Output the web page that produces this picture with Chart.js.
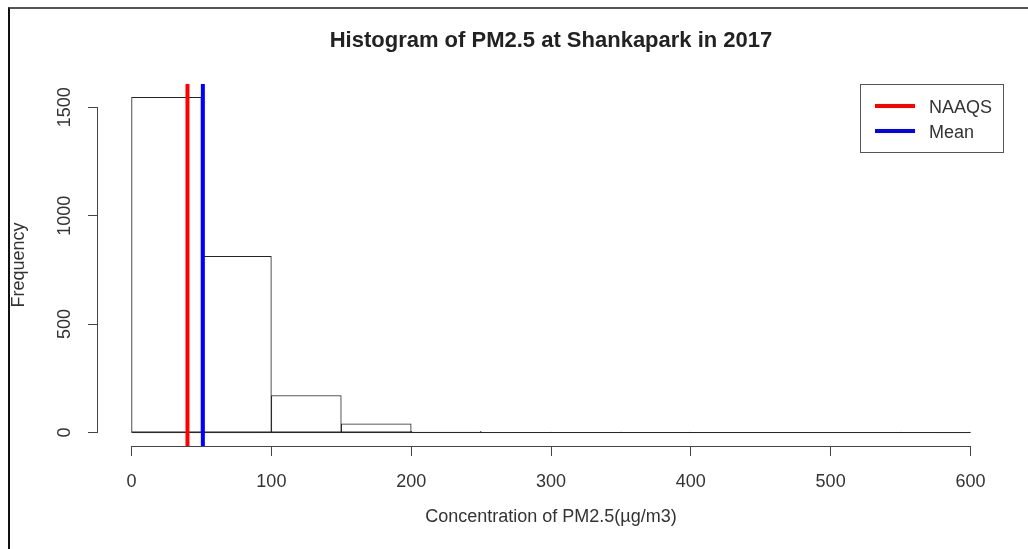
<!DOCTYPE html>
<html>
<head>
<meta charset="utf-8">
<script src="https://cdn.jsdelivr.net/npm/chart.js@4.4.1/dist/chart.umd.min.js"></script>
<style>
  html, body { margin: 0; padding: 0; background: #fff; }
  #wrap { position: relative; width: 1028px; height: 549px; }
  #frame {
    position: absolute; left: 8px; top: 7px; right: 0; bottom: 0;
    border-top: 2px solid #555; border-left: 2px solid #111;
    pointer-events: none;
  }
</style>
</head>
<body>
<div id="wrap">
  <canvas id="hist" width="1028" height="549"></canvas>
  <div id="frame"></div>
</div>
<script>
// histogram bins (left edges) and counts
const binStarts = [0, 50, 100, 150, 200, 250, 300, 350, 400, 450, 500, 550];
const binWidth = 50;
const counts = [1545, 812, 171, 40, 6, 2, 1, 1, 0, 0, 0, 1];

// reference lines
const naaqsValue = 40;
const meanValue = 51;

// axes
const xTicks = [0, 100, 200, 300, 400, 500, 600];
const yTicks = [0, 500, 1000, 1500];
const xLimits = [-24, 624];
const yLimits = [-62, 1607];

const axisColor = "#444";
const textColor = "#333";
const fontFamily = "'Liberation Sans', Arial, sans-serif";

// R style axis lines: only from first to last tick
const rAxes = {
  id: "rAxes",
  afterDraw(chart) {
    const { ctx, chartArea, scales: { x, y } } = chart;
    ctx.save();
    ctx.strokeStyle = axisColor;
    ctx.lineWidth = 1;
    ctx.beginPath();
    ctx.moveTo(x.getPixelForValue(xTicks[0]), chartArea.bottom + 0.5);
    ctx.lineTo(x.getPixelForValue(xTicks[xTicks.length - 1]), chartArea.bottom + 0.5);
    ctx.moveTo(chartArea.left - 0.5, y.getPixelForValue(yTicks[0]));
    ctx.lineTo(chartArea.left - 0.5, y.getPixelForValue(yTicks[yTicks.length - 1]));
    ctx.stroke();
    ctx.restore();
  }
};

// boxed legend in the top right corner of the plot
const boxLegend = {
  id: "boxLegend",
  afterDraw(chart) {
    const { ctx, chartArea } = chart;
    const items = chart.data.datasets.filter(d => d.inLegend);
    const w = 144, h = 69;
    const left = chartArea.right - w, top = chartArea.top;
    ctx.save();
    ctx.fillStyle = "#fff";
    ctx.fillRect(left, top, w, h);
    ctx.strokeStyle = "#555";
    ctx.lineWidth = 1;
    ctx.strokeRect(left + 0.5, top + 0.5, w - 1, h - 1);
    ctx.font = "18px " + fontFamily;
    ctx.textBaseline = "middle";
    items.forEach((d, i) => {
      const yy = top + 22 + i * 25;
      ctx.strokeStyle = d.borderColor;
      ctx.lineWidth = 4;
      ctx.beginPath();
      ctx.moveTo(left + 15, yy);
      ctx.lineTo(left + 55, yy);
      ctx.stroke();
      ctx.fillStyle = textColor;
      ctx.fillText(d.label, left + 69, yy + 2);
    });
    ctx.restore();
  }
};

new Chart(document.getElementById("hist"), {
  type: "bar",
  data: {
    datasets: [
      {
        type: "line",
        label: "NAAQS",
        inLegend: true,
        data: [{ x: naaqsValue, y: yLimits[0] }, { x: naaqsValue, y: yLimits[1] }],
        borderColor: "#ff0000",
        borderWidth: 4,
        pointRadius: 0,
        clip: 0,
        order: 1
      },
      {
        type: "line",
        label: "Mean",
        inLegend: true,
        data: [{ x: meanValue, y: yLimits[0] }, { x: meanValue, y: yLimits[1] }],
        borderColor: "#0000ff",
        borderWidth: 4,
        pointRadius: 0,
        clip: 0,
        order: 0
      },
      {
        type: "line",
        label: "baseline",
        data: [
          { x: binStarts[0], y: 0 },
          { x: binStarts[binStarts.length - 1] + binWidth, y: 0 }
        ],
        borderColor: "#222",
        borderWidth: 1,
        pointRadius: 0,
        order: 2
      },
      {
        label: "PM2.5",
        data: binStarts.map((b, i) => ({ x: b + binWidth / 2, y: counts[i] })),
        backgroundColor: "#fff",
        borderColor: "#222",
        borderWidth: 1,
        borderSkipped: false,
        barPercentage: 1,
        categoryPercentage: 1,
        order: 3
      }
    ]
  },
  options: {
    responsive: false,
    animation: false,
    events: [],
    layout: { padding: { left: 0, right: 24, top: 0, bottom: 0 } },
    plugins: {
      legend: { display: false },
      tooltip: { enabled: false },
      title: {
        display: true,
        fullSize: false,
        text: "Histogram of PM2.5 at Shankapark in 2017",
        color: "#222",
        font: { family: fontFamily, size: 22, weight: "bold", lineHeight: 1.2 },
        padding: { top: 28, bottom: 29.6 }
      }
    },
    scales: {
      x: {
        type: "linear",
        offset: false,
        min: xLimits[0],
        max: xLimits[1],
        afterBuildTicks: s => { s.ticks = xTicks.map(v => ({ value: v })); },
        afterFit: s => { s.height = 103; },
        border: { display: false },
        grid: { offset: false, drawOnChartArea: false, drawTicks: true, tickLength: 10, color: axisColor },
        ticks: {
          color: textColor,
          padding: 15,
          maxRotation: 0,
          callback: v => String(v),
          font: { family: fontFamily, size: 18 }
        },
        title: {
          display: true,
          text: "Concentration of PM2.5(µg/m3)",
          color: textColor,
          font: { family: fontFamily, size: 18, lineHeight: 1.2 },
          padding: { top: 0, bottom: 21 }
        }
      },
      y: {
        min: yLimits[0],
        max: yLimits[1],
        afterBuildTicks: s => { s.ticks = yTicks.map(v => ({ value: v })); },
        afterFit: s => { s.width = 98; },
        border: { display: false },
        grid: { drawOnChartArea: false, drawTicks: true, tickLength: 10, color: axisColor },
        ticks: {
          color: textColor,
          padding: 3,
          minRotation: 90,
          maxRotation: 90,
          crossAlign: "center",
          callback: v => String(v),
          font: { family: fontFamily, size: 18 }
        },
        title: {
          display: true,
          text: "Frequency",
          color: textColor,
          font: { family: fontFamily, size: 18, lineHeight: 1.2 },
          padding: { top: 8, bottom: 0 }
        }
      }
    }
  },
  plugins: [rAxes, boxLegend]
});
</script>
</body>
</html>
